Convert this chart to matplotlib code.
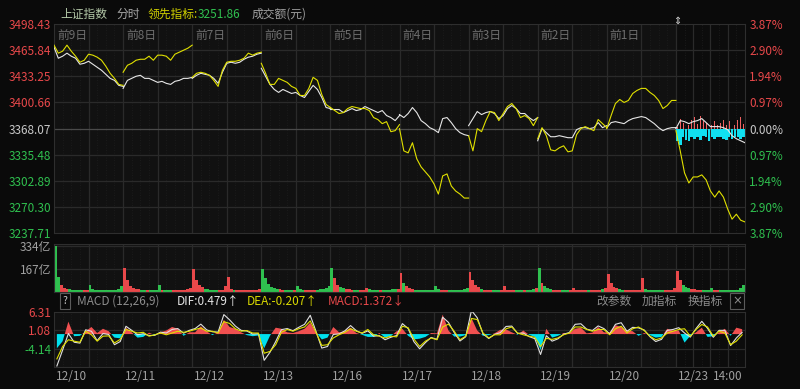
import numpy as np
import matplotlib
matplotlib.use("Agg")
import matplotlib.pyplot as plt

plt.rcParams["font.family"] = ["Noto Sans CJK SC", "DejaVu Sans"]

W, H = 800, 389

# ---- data ---------------------------------------------------------------
price_ticks = [3498.43, 3465.84, 3433.25, 3400.66, 3368.07, 3335.48, 3302.89, 3270.30, 3237.71]
pct_labels = ["3.87%", "2.90%", "1.94%", "0.97%", "0.00%", "0.97%", "1.94%", "2.90%", "3.87%"]
day_tags = ["前9日", "前8日", "前7日", "前6日", "前5日", "前4日", "前3日", "前2日", "前1日"]
date_labels = ["12/10", "12/11", "12/12", "12/13", "12/16", "12/17", "12/18", "12/19", "12/20", "12/23"]

# index price, 17 samples per day (every 15 min)
index_line = [
    [3469.6, 3455.8, 3458.3, 3462.1, 3458.3, 3455.8, 3448.3, 3449.5, 3452.0, 3448.3, 3444.5, 3440.8, 3435.8, 3430.7, 3428.2, 3422.0, 3420.7],
    [3418.2, 3428.2, 3430.7, 3433.3, 3434.5, 3430.7, 3430.7, 3428.2, 3425.7, 3427.0, 3424.5, 3423.2, 3427.0, 3428.2, 3430.7, 3430.7, 3432.0],
    [3430.7, 3434.5, 3437.0, 3435.8, 3434.5, 3430.7, 3424.5, 3438.3, 3449.5, 3450.8, 3449.5, 3450.8, 3454.5, 3457.1, 3458.3, 3460.8, 3462.1],
    [3443.3, 3433.3, 3423.2, 3416.9, 3413.2, 3416.9, 3414.4, 3411.9, 3413.2, 3409.4, 3406.9, 3414.4, 3422.0, 3416.9, 3406.9, 3394.4, 3393.1],
    [3391.9, 3391.9, 3391.9, 3388.1, 3390.6, 3393.1, 3390.6, 3391.9, 3395.6, 3393.1, 3390.6, 3388.1, 3390.6, 3384.4, 3381.9, 3378.1, 3384.4],
    [3385.6, 3381.9, 3386.9, 3394.4, 3388.1, 3378.1, 3374.3, 3369.3, 3366.8, 3363.1, 3380.6, 3381.9, 3375.6, 3368.1, 3363.1, 3360.6, 3359.3],
    [3371.8, 3380.6, 3389.4, 3385.6, 3388.1, 3389.4, 3386.9, 3380.6, 3384.4, 3393.1, 3396.9, 3393.1, 3386.9, 3386.9, 3381.9, 3378.1, 3381.9],
    [3353.0, 3368.1, 3363.1, 3358.0, 3358.0, 3359.3, 3358.0, 3356.8, 3356.8, 3366.8, 3369.3, 3369.3, 3368.1, 3369.3, 3375.6, 3369.3, 3371.8],
    [3369.3, 3375.6, 3376.8, 3375.6, 3374.3, 3378.1, 3380.6, 3381.9, 3383.1, 3381.9, 3378.1, 3374.3, 3369.3, 3365.6, 3368.1, 3369.3, 3369.3],
    [3368.1, 3378.1, 3376.8, 3374.3, 3376.8, 3378.1, 3380.6, 3375.6, 3370.6, 3370.6, 3370.6, 3369.3, 3366.8, 3359.3, 3355.5, 3353.0, 3350.5],
]

# leading indicator, same sampling
lead_line = [
    [3472.1, 3462.1, 3464.6, 3472.1, 3464.6, 3458.3, 3450.8, 3453.3, 3460.8, 3459.6, 3457.1, 3453.3, 3445.8, 3437.0, 3430.7, 3423.2, 3422.0],
    [3438.3, 3447.0, 3449.5, 3453.3, 3454.5, 3454.5, 3458.3, 3453.3, 3459.6, 3459.6, 3458.3, 3453.3, 3460.8, 3463.3, 3465.8, 3468.3, 3472.1],
    [3432.0, 3437.0, 3438.3, 3437.0, 3434.5, 3428.2, 3420.7, 3440.8, 3450.8, 3452.0, 3452.0, 3453.3, 3455.8, 3462.1, 3459.6, 3462.1, 3463.3],
    [3449.5, 3437.0, 3423.2, 3423.2, 3430.7, 3428.2, 3425.7, 3420.7, 3418.2, 3409.4, 3409.4, 3418.2, 3432.0, 3428.2, 3410.7, 3398.2, 3394.4],
    [3394.4, 3390.6, 3386.9, 3388.1, 3393.1, 3395.6, 3394.4, 3393.1, 3393.1, 3390.6, 3381.9, 3379.4, 3374.3, 3376.8, 3364.3, 3365.6, 3373.1],
    [3368.1, 3340.4, 3337.9, 3350.5, 3330.5, 3320.4, 3314.2, 3307.9, 3299.1, 3286.6, 3309.2, 3311.7, 3296.6, 3290.4, 3286.6, 3281.6, 3281.6],
    [3359.3, 3340.4, 3368.1, 3364.3, 3378.1, 3389.4, 3388.1, 3378.1, 3386.9, 3395.6, 3399.4, 3393.1, 3381.9, 3384.4, 3380.6, 3371.8, 3381.9],
    [3355.5, 3369.3, 3359.3, 3341.7, 3340.4, 3344.2, 3346.7, 3339.2, 3340.4, 3360.6, 3368.1, 3370.6, 3368.1, 3365.6, 3379.4, 3374.3, 3369.3],
    [3368.1, 3384.4, 3399.4, 3404.4, 3400.7, 3403.2, 3411.9, 3415.7, 3418.2, 3418.2, 3413.2, 3409.4, 3403.2, 3393.1, 3396.9, 3403.2, 3403.2],
    [3365.6, 3340.4, 3312.9, 3300.4, 3307.9, 3307.9, 3310.5, 3304.2, 3290.4, 3282.8, 3290.4, 3282.8, 3267.8, 3255.3, 3261.5, 3254.0, 3251.86],
]

# today's buy / sell bars around the prior close (points)
lead_buy = [2.5, 12.5, 7.5, 17.5, 5, 11, 15, 6, 16, 10, 7.5, 12.5, 5, 10, 4, 7.5, 11, 4, 9, 15, 5, 11, 14, 6]
lead_sell = [15, 20, 11, 14, 16, 10, 12.5, 11, 14, 9, 11, 15, 10, 12.5, 11, 10, 12.5, 14, 11, 12.5, 10, 11, 12.5, 10]

# turnover per minute (亿), 24 ten-minute buckets per day
volume = [
    [334, 110, 50, 32, 26, 22, 20, 18, 17, 16, 15, 16, 54, 22, 18, 16, 15, 14, 14, 15, 16, 18, 25, 42],
    [171, 85, 45, 30, 25, 22, 20, 18, 17, 16, 15, 16, 54, 20, 17, 15, 14, 14, 14, 15, 16, 18, 22, 30],
    [164, 90, 50, 35, 25, 22, 20, 18, 17, 16, 20, 42, 112, 25, 20, 17, 16, 15, 15, 16, 16, 18, 20, 25],
    [164, 105, 60, 40, 30, 25, 22, 20, 18, 17, 16, 17, 42, 22, 20, 18, 17, 17, 18, 20, 22, 25, 30, 42],
    [171, 100, 50, 35, 28, 25, 22, 20, 20, 18, 18, 18, 30, 22, 20, 18, 18, 17, 17, 18, 20, 22, 24, 25],
    [140, 70, 45, 30, 22, 20, 18, 17, 16, 15, 15, 15, 42, 25, 18, 16, 15, 14, 14, 15, 16, 18, 22, 30],
    [147, 90, 50, 35, 25, 20, 18, 17, 16, 15, 15, 15, 42, 20, 16, 15, 14, 14, 14, 15, 16, 18, 25, 30],
    [176, 70, 42, 30, 22, 20, 18, 17, 16, 15, 15, 15, 30, 18, 15, 14, 14, 13, 13, 14, 15, 18, 22, 30],
    [129, 65, 40, 28, 22, 20, 18, 17, 16, 15, 15, 15, 100, 22, 16, 15, 14, 13, 13, 14, 15, 17, 20, 30],
    [152, 85, 55, 40, 30, 25, 22, 20, 18, 17, 16, 16, 30, 18, 16, 15, 14, 14, 14, 15, 16, 20, 30, 54],
]

# MACD(12,26,9): DEA line and histogram, 12 samples per day
dea = [
    [-7.0, -3.5, -1.6, -2.0, -2.3, 0.8, -0.2, -2.0, -0.6, -0.5, -2.5, -1.5],
    [1.3, 0.8, 0.3, 0.5, -0.6, -0.2, 0.3, -0.2, 0.3, 0.8, 0.5, 0.8],
    [1.3, 1.7, 0.8, 0.8, 0.3, 3.5, 3.0, 1.5, 0.8, 1.0, 0.3, 0.3],
    [-5.4, -4.9, -3.0, 0.5, 1.3, 0.8, 1.5, 2.0, 3.7, 0.5, -3.2, -3.0],
    [-1.1, -0.2, 0.5, 1.5, 0.8, 0.3, 1.3, -0.2, -0.6, -1.1, -0.6, -0.8],
    [2.2, 1.8, -1.4, -3.5, -2.0, -1.1, -1.6, 2.0, 2.8, 0.8, -1.6, -0.6],
    [4.4, 4.1, 0.3, -1.1, -0.2, -0.2, 1.5, 2.0, 0.3, -0.2, -0.6, -0.9],
    [-3.5, -1.2, -1.5, -1.1, -0.2, 0.3, 2.0, 2.0, 1.3, 0.8, 1.3, 1.3],
    [-0.2, 1.5, 2.2, 0.3, 1.5, 2.0, 1.0, -0.6, -1.6, -1.1, 0.3, 0.8],
    [1.3, 1.5, -0.6, 1.3, 2.7, 2.0, -0.6, 0.8, 0.3, -3.0, -2.0, -0.207],
]
macd_hist = [
    [-4.0, -2.0, 3.5, -0.6, -0.5, 0.8, 2.0, 0.3, 1.5, 0.8, -1.0, -1.2],
    [1.8, 0.5, -1.0, -0.8, 0.4, -0.3, 0.5, 1.0, 2.0, 1.5, -0.5, 0.5],
    [0.5, 2.2, 0.8, -0.3, 0.5, 4.0, 2.0, 1.5, 0.5, -0.3, -0.6, -0.4],
    [-4.0, -0.5, 1.8, 1.5, 0.5, 0.3, 0.8, 1.5, 3.2, 0.5, -1.5, -1.0],
    [2.0, 0.5, 0.8, 1.8, 0.3, -0.2, -0.8, -0.8, 0.3, -1.0, -0.6, 0.8],
    [1.5, -0.5, -1.5, -1.3, -0.8, 0.3, 0.2, 5.5, 1.0, -0.7, -0.7, -0.3],
    [4.5, 1.0, -0.5, -0.3, 0.2, 1.2, 1.3, 0.5, -0.2, 1.0, -0.2, -0.8],
    [-4.5, 1.5, -1.0, -0.5, 0.3, 0.3, 1.5, 1.8, 0.2, 0.4, 2.0, 0.5],
    [0.5, 2.5, 2.0, 1.0, 0.8, -0.5, 0.3, -0.3, -1.0, -0.8, 1.5, 1.0],
    [1.0, -2.4, -0.5, 0.5, 1.8, -0.8, -0.6, 0.5, 1.5, -0.5, 1.8, 1.372],
]

# ---- helpers --------------------------------------------------------------
BG = "#0a0a0a"
PANEL = "#111111"
GRID = "#2a2a2a"
RED = "#e8484a"
GREEN = "#2fc04f"
GREY = "#a0a0a0"
YELLOW = "#e0e000"
NDAY = 10
DAY = 240


def fpos(x, y):
    return x / W, 1 - y / H


def day_series(rows, step):
    xs, ys = [], []
    for d, row in enumerate(rows):
        xs += [d * DAY + step * j for j in range(len(row))] + [np.nan]
        ys += list(row) + [np.nan]
    return np.array(xs, float), np.array(ys, float)


def style(ax):
    ax.set_facecolor(PANEL)
    ax.set_xlim(0, NDAY * DAY)
    for s in ax.spines.values():
        s.set_color("#2e2e2e")
        s.set_linewidth(0.8)
    ax.tick_params(length=0, labelbottom=False)
    ax.set_xticks([])
    for t in range(30, NDAY * DAY, 30):
        if t % 120 == 0:
            ax.axvline(t, color=GRID, lw=0.9, zorder=0)
        else:
            ax.axvline(t, color="#1f1f1f", lw=0.6, ls=(0, (1, 2)), zorder=0)
    ax.axvspan(9 * DAY, NDAY * DAY, color="#0c0c0c", zorder=-1, lw=0)
    for t in (9 * DAY + 60, 9 * DAY + 180):
        ax.axvline(t, color=GRID, lw=0.9, zorder=0)


fig = plt.figure(figsize=(W / 100, H / 100), dpi=100, facecolor=BG)

left, width = 54 / W, 691 / W
ax = fig.add_axes([left, 1 - 233.3 / H, width, (233.3 - 24) / H])
axv = fig.add_axes([left, 1 - 292.3 / H, width, 48 / H])
axm = fig.add_axes([left, 1 - 367.3 / H, width, 55.6 / H])
for a in (ax, axv, axm):
    style(a)

# ---- price panel ---------------------------------------------------------
ax.set_ylim(price_ticks[-1], price_ticks[0])
for p in price_ticks[1:-1]:
    ax.axhline(p, color="#4a4a4a" if p == 3368.07 else GRID, lw=0.9, zorder=0)

x, y = day_series(index_line, 15)
ax.plot(x, y, color="#e6e6e6", lw=0.8, zorder=3)
x, y = day_series(lead_line, 15)
ax.plot(x, y, color=YELLOW, lw=0.8, zorder=4)

bx = 9 * DAY + 5 + 10 * np.arange(len(lead_buy))
ax.bar(bx, lead_buy, bottom=3368.07, width=3, color="#f06060", zorder=2)
ax.bar(bx, [-v for v in lead_sell], bottom=3368.07, width=9, color="#10e0f0", zorder=2, lw=0)

ax.set_yticks(price_ticks)
ax.set_yticklabels([f"{p:.2f}" for p in price_ticks], fontsize=8.5)
ax.tick_params(axis="y", pad=2)
for i, lab in enumerate(ax.get_yticklabels()):
    lab.set_color(RED if i < 4 else ("#c8c8c8" if i == 4 else GREEN))

axr = ax.twinx()
axr.set_ylim(ax.get_ylim())
axr.set_yticks(price_ticks)
axr.set_yticklabels(pct_labels, fontsize=8.5)
axr.tick_params(length=0, pad=3)
for s in axr.spines.values():
    s.set_visible(False)
for i, lab in enumerate(axr.get_yticklabels()):
    lab.set_color(RED if i < 4 else ("#c8c8c8" if i == 4 else GREEN))

for d, tag in enumerate(day_tags):
    fig.text(*fpos(54 + 69.1 * d + 3, 35), tag, color="#6e6e6e", fontsize=8.5, va="center")
fig.text(*fpos(677, 21), "⇕", color="#d8d8d8", fontsize=7, ha="center", va="center",
         family="DejaVu Sans")

# header
fig.text(*fpos(60, 14), "上证指数", color="#b4c8a8", fontsize=8.5, va="center")
fig.text(*fpos(116, 14), "分时", color="#a8a8a8", fontsize=8.5, va="center")
fig.text(*fpos(148, 14), "领先指标:", color="#d0d000", fontsize=8.5, va="center")
fig.text(*fpos(198, 14), "3251.86", color="#30c050", fontsize=8.5, va="center")
fig.text(*fpos(252, 14), "成交额(元)", color="#a0a0a0", fontsize=8.5, va="center")

# ---- volume panel --------------------------------------------------------
vx = np.array([d * DAY + 10 * k + 5 for d in range(NDAY) for k in range(24)], float)
vy = np.array([v for row in volume for v in row], float)
px_, py_ = day_series(index_line, 15)
ok = ~np.isnan(px_)
now = np.interp(vx, px_[ok], py_[ok])
prev = np.interp(vx - 10, px_[ok], py_[ok])
vcol = [RED if a >= b else GREEN for a, b in zip(now, prev)]
axv.bar(vx, vy, width=10, color=vcol, zorder=2, lw=0)
axv.set_ylim(0, 344)
axv.axhline(167, color=GRID, lw=0.9, zorder=0)
axv.axhline(334, color=GRID, lw=0.9, zorder=0)
axv.set_yticks([334, 167])
axv.set_yticklabels(["334亿", "167亿"], fontsize=8.5, color=GREY)
axv.tick_params(axis="y", pad=2)

# ---- MACD panel ----------------------------------------------------------
mx = np.array([d * DAY + 10 + 20 * k for d in range(NDAY) for k in range(12)], float)
mdea = np.array([v for row in dea for v in row])
mh = np.array([v for row in macd_hist for v in row])
mdif = mdea + mh / 2
axm.set_ylim(-9.37, 6.31)
axm.axhline(1.08, color=GRID, lw=0.9, zorder=0)
axm.axhline(-4.14, color=GRID, lw=0.9, zorder=0)
axm.fill_between(mx, 0, mh, where=mh >= 0, interpolate=True, color="#f05050", lw=0, zorder=2)
axm.fill_between(mx, 0, mh, where=mh < 0, interpolate=True, color="#00e0ee", lw=0, zorder=2)
axm.plot(mx, mdif, color="#e0e0e0", lw=0.8, zorder=3)
axm.plot(mx, mdea, color=YELLOW, lw=0.8, zorder=4)
axm.set_yticks([6.31, 1.08, -4.14])
axm.set_yticklabels(["6.31", "1.08", "-4.14"], fontsize=8.5)
axm.tick_params(axis="y", pad=2)
for lab, c in zip(axm.get_yticklabels(), [RED, RED, GREEN]):
    lab.set_color(c)

# MACD header row
fig.text(*fpos(65, 301), "?", color="#c8c8c8", fontsize=7.5, ha="center", va="center",
         bbox=dict(boxstyle="square,pad=0.25", fc="none", ec="#5a5a5a", lw=0.8))
fig.text(*fpos(77, 301), "MACD (12,26,9)", color="#8c8c8c", fontsize=8.5, va="center")
fig.text(*fpos(177, 301), "DIF:0.479↑", color="#e6e6e6", fontsize=8.5, va="center")
fig.text(*fpos(247, 301), "DEA:-0.207↑", color="#d8d800", fontsize=8.5, va="center")
fig.text(*fpos(328, 301), "MACD:1.372↓", color=RED, fontsize=8.5, va="center")
fig.text(*fpos(596, 301), "改参数", color="#8c8c8c", fontsize=8.5, va="center")
fig.text(*fpos(642, 301), "加指标", color="#8c8c8c", fontsize=8.5, va="center")
fig.text(*fpos(688, 301), "换指标", color="#8c8c8c", fontsize=8.5, va="center")
fig.text(*fpos(737, 301), "×", color="#8c8c8c", fontsize=8.5, ha="center", va="center",
         family="DejaVu Sans",
         bbox=dict(boxstyle="square,pad=0.15", fc="none", ec="#5a5a5a", lw=0.8))

# date axis
for d, lab in enumerate(date_labels):
    fig.text(*fpos(54 + 69.1 * d + 2, 377), lab, color=GREY, fontsize=8.5, va="center")
fig.text(*fpos(743, 377), "14:00", color=GREY, fontsize=8.5, ha="right", va="center")

fig.savefig("out.png", dpi=100, facecolor=BG)
